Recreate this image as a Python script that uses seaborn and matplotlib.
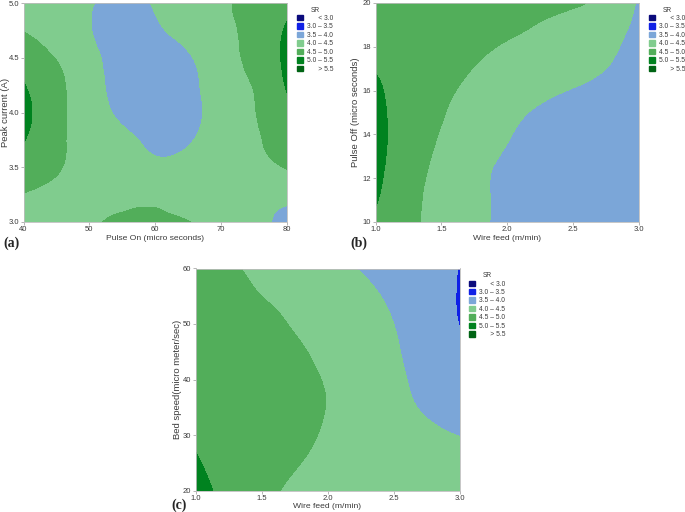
import numpy as np
import matplotlib
matplotlib.use("Agg")
import matplotlib.pyplot as plt
import matplotlib.tri as mtri
import seaborn as sns
from matplotlib.patches import Patch

sns.set_theme(style="white")
plt.rcParams["font.family"] = ["Liberation Sans", "DejaVu Sans"]

# ---------------- data ----------------
sr_levels = [0.0, 3.0, 3.5, 4.0, 4.5, 5.0, 5.5, 9.0]
sr_labels = ["      < 3.0", "3.0 \u2013 3.5", "3.5 \u2013 4.0", "4.0 \u2013 4.5",
             "4.5 \u2013 5.0", "5.0 \u2013 5.5", "      > 5.5"]
sr_colors = ["#0b0b7c", "#1020e6", "#7ba6d8", "#80cc8e", "#52ae5a", "#00821f", "#006414"]

# (a) Pulse On vs Peak current  (rows: Peak current ascending)
a_pulse_on = [40, 45, 50, 55, 60, 65, 70, 75, 80]
a_peak_current = [3.0, 3.25, 3.5, 3.75, 4.0, 4.25, 4.5, 4.75, 5.0]
a_sr = [
    [3.97, 4.20, 4.45, 4.53, 4.56, 4.51, 4.30, 4.12, 3.88],
    [4.47, 4.35, 4.35, 4.40, 4.40, 4.30, 4.20, 4.12, 4.12],
    [4.80, 4.55, 4.30, 4.20, 4.10, 4.15, 4.25, 4.35, 4.52],
    [5.02, 4.60, 4.30, 4.10, 3.90, 3.95, 4.25, 4.45, 4.70],
    [5.15, 4.62, 4.25, 3.90, 3.75, 3.85, 4.20, 4.48, 4.85],
    [5.02, 4.60, 4.20, 3.80, 3.65, 3.85, 4.25, 4.52, 5.04],
    [4.80, 4.48, 4.15, 3.75, 3.70, 3.95, 4.30, 4.63, 5.10],
    [4.48, 4.30, 4.03, 3.70, 3.90, 4.15, 4.37, 4.65, 5.05],
    [4.25, 4.20, 4.05, 3.80, 4.05, 4.20, 4.40, 4.67, 4.85],
]

# (b) Wire feed vs Pulse Off  (rows: Pulse Off ascending)
b_wire_feed = [1.0, 1.25, 1.5, 1.75, 2.0, 2.25, 2.5, 2.75, 3.0]
b_pulse_off = [10.0, 11.25, 12.5, 13.75, 15.0, 16.25, 17.5, 18.75, 20.0]
b_sr = [
    [4.92, 4.60, 4.33, 4.10, 3.90, 3.77, 3.68, 3.63, 3.60],
    [5.05, 4.65, 4.33, 4.10, 3.90, 3.77, 3.68, 3.62, 3.60],
    [5.12, 4.70, 4.38, 4.12, 3.92, 3.78, 3.68, 3.62, 3.58],
    [5.15, 4.75, 4.46, 4.22, 4.01, 3.85, 3.72, 3.63, 3.58],
    [5.10, 4.80, 4.53, 4.30, 4.10, 3.95, 3.82, 3.70, 3.62],
    [5.05, 4.80, 4.60, 4.42, 4.27, 4.13, 4.02, 3.90, 3.75],
    [4.92, 4.78, 4.65, 4.53, 4.41, 4.30, 4.18, 4.04, 3.85],
    [4.85, 4.75, 4.68, 4.62, 4.55, 4.45, 4.32, 4.15, 3.90],
    [4.80, 4.75, 4.72, 4.68, 4.65, 4.60, 4.55, 4.35, 3.95],
]

# (c) Wire feed vs Bed speed  (rows: Bed speed ascending)
c_wire_feed = [1.0, 1.25, 1.5, 1.75, 2.0, 2.25, 2.5, 2.75, 3.0]
c_bed_speed = [20, 25, 30, 35, 40, 45, 50, 55, 60]
c_sr = [
    [5.12, 4.88, 4.63, 4.42, 4.30, 4.23, 4.20, 4.20, 4.20],
    [5.03, 4.85, 4.68, 4.53, 4.38, 4.27, 4.18, 4.12, 4.10],
    [4.95, 4.83, 4.71, 4.60, 4.45, 4.30, 4.17, 4.07, 3.99],
    [4.88, 4.80, 4.70, 4.60, 4.49, 4.32, 4.13, 3.95, 3.80],
    [4.85, 4.77, 4.68, 4.59, 4.47, 4.28, 4.08, 3.88, 3.70],
    [4.82, 4.74, 4.65, 4.55, 4.40, 4.22, 4.04, 3.83, 3.60],
    [4.80, 4.70, 4.60, 4.47, 4.33, 4.17, 4.00, 3.78, 3.49],
    [4.78, 4.64, 4.50, 4.38, 4.25, 4.10, 3.93, 3.72, 3.47],
    [4.72, 4.56, 4.40, 4.25, 4.12, 3.98, 3.82, 3.65, 3.49],
]

panels = [
    dict(x=a_pulse_on, y=a_peak_current, z=a_sr, xlabel="Pulse On (micro seconds)",
         ylabel="Peak current (A)", xticks=[40, 50, 60, 70, 80],
         yticks=[3.0, 3.5, 4.0, 4.5, 5.0], xfmt="{:.0f}", yfmt="{:.1f}",
         pos=[23.5, 3, 287, 222], tag="(a)", tagxy=(3, 243), ylab_x=-0.053),
    dict(x=b_wire_feed, y=b_pulse_off, z=b_sr, xlabel="Wire feed (m/min)",
         ylabel="Pulse Off (micro seconds)", xticks=[1.0, 1.5, 2.0, 2.5, 3.0],
         yticks=[10, 12, 14, 16, 18, 20], xfmt="{:.1f}", yfmt="{:.0f}",
         pos=[375.5, 3, 639, 222], tag="(b)", tagxy=(350, 243), ylab_x=-0.059),
    dict(x=c_wire_feed, y=c_bed_speed, z=c_sr, xlabel="Wire feed (m/min)",
         ylabel="Bed speed(micro meter/sec)", xticks=[1.0, 1.5, 2.0, 2.5, 3.0],
         yticks=[20, 30, 40, 50, 60], xfmt="{:.1f}", yfmt="{:.0f}",
         pos=[195.5, 268.5, 459.5, 490.5], tag="(c)", tagxy=(171, 505), ylab_x=-0.051),
]


def smooth_contour(ax, x, y, z):
    """Filled contour of a grid, rendered smoothly with matplotlib's tri refiner."""
    x = np.asarray(x, float)
    y = np.asarray(y, float)
    z = np.asarray(z, float)
    nx, ny = len(x), len(y)
    u = (x - x.min()) / (x.max() - x.min())
    v = (y - y.min()) / (y.max() - y.min())
    U, V = np.meshgrid(u, v)
    tris = []
    for j in range(ny - 1):
        for i in range(nx - 1):
            k = j * nx + i
            tris.append([k, k + 1, k + nx + 1])
            tris.append([k, k + nx + 1, k + nx])
    tri = mtri.Triangulation(U.ravel(), V.ravel(), np.array(tris))
    interp = mtri.CubicTriInterpolator(tri, z.ravel(), kind="min_E")
    refiner = mtri.UniformTriRefiner(tri)
    tri_r, z_r = refiner.refine_field(z.ravel(), triinterpolator=interp, subdiv=4)
    tri_d = mtri.Triangulation(x.min() + tri_r.x * (x.max() - x.min()),
                               y.min() + tri_r.y * (y.max() - y.min()),
                               tri_r.triangles)
    cs = ax.tricontourf(tri_d, z_r, levels=sr_levels, colors=sr_colors)
    cs.set_edgecolor("face")
    cs.set_linewidth(0.3)
    return cs


W, H = 685, 512
fig = plt.figure(figsize=(W / 100, H / 100), dpi=100)
text_col = "#3a3a3a"

for p in panels:
    l, t, r, b = p["pos"]
    ax = fig.add_axes([l / W, 1 - b / H, (r - l) / W, (b - t) / H])
    smooth_contour(ax, p["x"], p["y"], p["z"])
    ax.set_xlim(min(p["x"]), max(p["x"]))
    ax.set_ylim(min(p["y"]), max(p["y"]))
    ax.set_xticks(p["xticks"])
    ax.set_yticks(p["yticks"])
    ax.set_xticklabels([p["xfmt"].format(v) for v in p["xticks"]])
    ax.set_yticklabels([p["yfmt"].format(v) for v in p["yticks"]])
    ax.tick_params(axis="both", which="both", length=2, width=0.5, color="#999999",
                   labelsize=5.5, labelcolor=text_col, pad=1.2,
                   bottom=True, left=True)
    ax.set_xlabel(p["xlabel"], fontsize=6.1, color=text_col, labelpad=1)
    ax.set_ylabel(p["ylabel"], fontsize=6.8, color=text_col)
    ax.yaxis.set_label_coords(p["ylab_x"], 0.5)
    for s in ax.spines.values():
        s.set_color("#bdbdbd")
        s.set_linewidth(0.6)
    handles = [Patch(facecolor=c, edgecolor=c) for c in sr_colors]
    leg = ax.legend(handles, sr_labels, title="SR", loc="upper left",
                    bbox_to_anchor=(1.032, 0.99), frameon=False, fontsize=4.8,
                    title_fontsize=4.8, handlelength=0.9, handleheight=0.85,
                    handletextpad=0.6, labelspacing=0.22, borderpad=0.2,
                    borderaxespad=0)
    for txt in leg.get_texts():
        txt.set_color(text_col)
    leg.get_title().set_color(text_col)
    fig.text(p["tagxy"][0] / W, 1 - p["tagxy"][1] / H, p["tag"], fontsize=10,
             fontweight="bold", family="Liberation Serif", va="center", ha="left")

fig.savefig("out.png", dpi=100)
